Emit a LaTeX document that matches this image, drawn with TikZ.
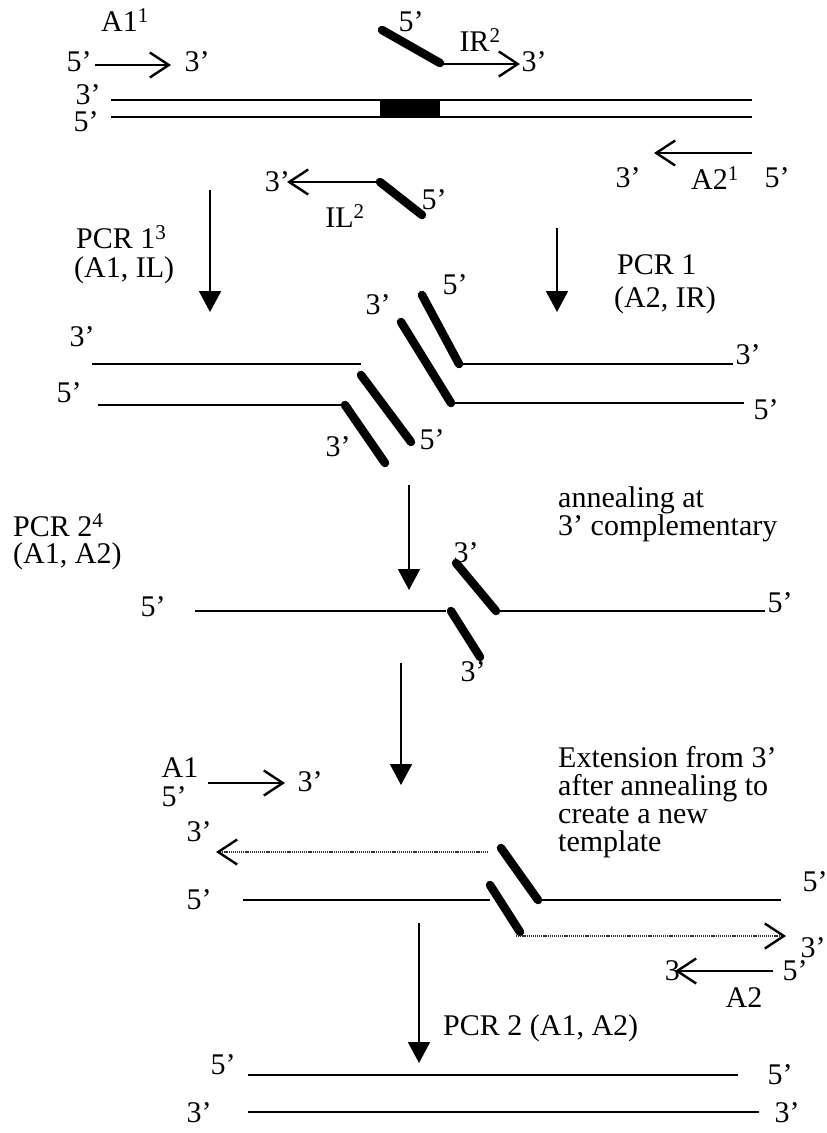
\documentclass[tikz,border=0pt]{standalone}
\usepackage{fontspec}
\setmainfont{Liberation Serif}
\usetikzlibrary{arrows.meta}

\begin{document}
\begin{tikzpicture}[x=1pt, y=-1pt,
    lbl/.style={inner sep=0pt, font=\fontsize{30}{28}\selectfont},
    strand/.style={line width=2.8pt},
    primer/.style={line width=8.5pt, line cap=round},
    flow/.style={line width=2pt, -{Triangle[length=21pt, width=22pt]}},
    prim/.style={line width=2.4pt, -{Straight Barb[length=19pt, width=25pt, line width=2.4pt]}},
    newdna/.style={line width=1.8pt, black!80, dash pattern=on 1.2pt off 0.9pt,
                   -{Straight Barb[length=19pt, width=25pt, line width=2.4pt, black]}}]
      \useasboundingbox (0,0) rectangle (827,1133);

      % template with the outer primers A1, A2 and the inner primers IR, IL
      \node[lbl] (a1) at (125,20) {A1\textsuperscript{1}};
      \node[lbl] (a1five) at (79,62) {5'};
      \node[lbl] (a1three) at (197,62) {3'};
      \draw[prim] (95,65) -- (171,65);

      \draw[primer] (382,30) -- (440,63);
      \draw[prim] (440,64) -- (520,64);
      \node[lbl] (irfive) at (411,22) {5'};
      \node[lbl] (ir) at (480,40) {IR\textsuperscript{2}};
      \node[lbl] (irthree) at (534,62) {3'};

      \draw[strand] (111,100) -- (752,100);
      \draw[strand] (111,117) -- (752,117);
      \fill (380,100) rectangle (440,117);
      \node[lbl] (tthree) at (88,95) {3'};
      \node[lbl] (tfive) at (86,122) {5'};

      \draw[prim] (752,153) -- (654,153);
      \node[lbl] (a2three) at (628,178) {3'};
      \node[lbl] (a2) at (715,178) {A2\textsuperscript{1}};
      \node[lbl] (a2five) at (777,178) {5'};

      \draw[primer] (380,182) -- (422,215);
      \draw[prim] (380,182) -- (287,182);
      \node[lbl, anchor=east] (ilthree) at (290,182) {3'};
      \node[lbl] (ilfive) at (434,200) {5'};
      \node[lbl] (il) at (345,216) {IL\textsuperscript{2}};

      % first round of PCR
      \draw[flow] (210,190) -- (210,312);
      \draw[flow] (557,228) -- (557,312);
      \node[lbl, anchor=west] (pcra) at (76,237) {PCR 1\textsuperscript{3}};
      \node[lbl, anchor=west] (pcrapr) at (74,270) {(A1, IL)};
      \node[lbl, anchor=west] (pcrb) at (617,265) {PCR 1};
      \node[lbl, anchor=west] (pcrbpr) at (614,300) {(A2, IR)};

      % the two products
      \draw[strand] (92,364) -- (361,364);
      \draw[strand] (98,405) -- (345,405);
      \draw[primer] (345,405) -- (385,463);
      \draw[primer] (361,375) -- (411,442);
      \node[lbl] (pathree) at (82,337) {3'};
      \node[lbl] (pafive) at (69,393) {5'};
      \node[lbl] (pbthree) at (338,447) {3'};
      \node[lbl] (pbfive) at (432,440) {5'};

      \draw[primer] (401,322) -- (451,403);
      \draw[strand] (451,403) -- (744,403);
      \draw[primer] (422,295) -- (459,364);
      \draw[strand] (459,364) -- (733,364);
      \node[lbl] (pcthree) at (378,305) {3'};
      \node[lbl] (pcfive) at (455,285) {5'};
      \node[lbl] (pdthree) at (748,355) {3'};
      \node[lbl] (pdfive) at (766,410) {5'};

      % annealing at the complementary 3' ends
      \draw[flow] (409,485) -- (409,590);
      \node[lbl, anchor=west] (pcrc) at (13,525) {PCR 2\textsuperscript{4}};
      \node[lbl, anchor=west] (pcrcpr) at (13,556) {(A1, A2)};
      \node[lbl, anchor=west, align=left] (anneal) at (558,514) {annealing at\\3' complementary};

      \draw[strand] (195,611) -- (446,611);
      \draw[primer] (451,611) -- (480,657);
      \draw[primer] (456,563) -- (496,611);
      \draw[strand] (496,611) -- (765,611);
      \node[lbl] (afive) at (153,607) {5'};
      \node[lbl] (athree) at (466,553) {3'};
      \node[lbl] (bfive) at (780,603) {5'};
      \node[lbl] (bthree) at (473,672) {3'};

      % extension
      \draw[flow] (401,663) -- (401,785);
      \node[lbl] (ea1) at (180,768) {A1};
      \node[lbl] (ea1five) at (174,797) {5'};
      \node[lbl] (ea1three) at (310,782) {3'};
      \draw[prim] (208,783) -- (285,783);
      \node[lbl, anchor=west, align=left] (ext) at (558,802)
          {Extension from 3'\\after annealing to\\create a new\\template};

      \draw[newdna] (488,852) -- (216,852);
      \node[lbl] (ethree) at (199,832) {3'};
      \draw[primer] (501,848) -- (538,900);
      \draw[strand] (538,900) -- (781,900);
      \node[lbl] (efive) at (815,882) {5'};
      \draw[strand] (243,900) -- (490,900);
      \node[lbl] (ffive) at (199,900) {5'};
      \draw[primer] (490,885) -- (520,932);
      \draw[newdna] (516,936) -- (786,936);
      \node[lbl] (fthree) at (813,948) {3'};

      % second round of PCR
      \draw[flow] (419,923) -- (419,1063);
      \draw[prim] (773,971) -- (675,971);
      \node[lbl, anchor=east] (ga2three) at (680,971) {3};
      \node[lbl] (ga2five) at (795,971) {5'};
      \node[lbl] (ga2) at (744,998) {A2};
      \node[lbl, anchor=west] (pcrd) at (443,1028) {PCR 2 (A1, A2)};

      \draw[strand] (248,1075) -- (738,1075);
      \draw[strand] (248,1112) -- (759,1112);
      \node[lbl] (hfive) at (223,1065) {5'};
      \node[lbl] (hfiveb) at (780,1075) {5'};
      \node[lbl] (hthree) at (199,1113) {3'};
      \node[lbl] (hthreeb) at (787,1113) {3'};

    \end{tikzpicture}
\end{document}
